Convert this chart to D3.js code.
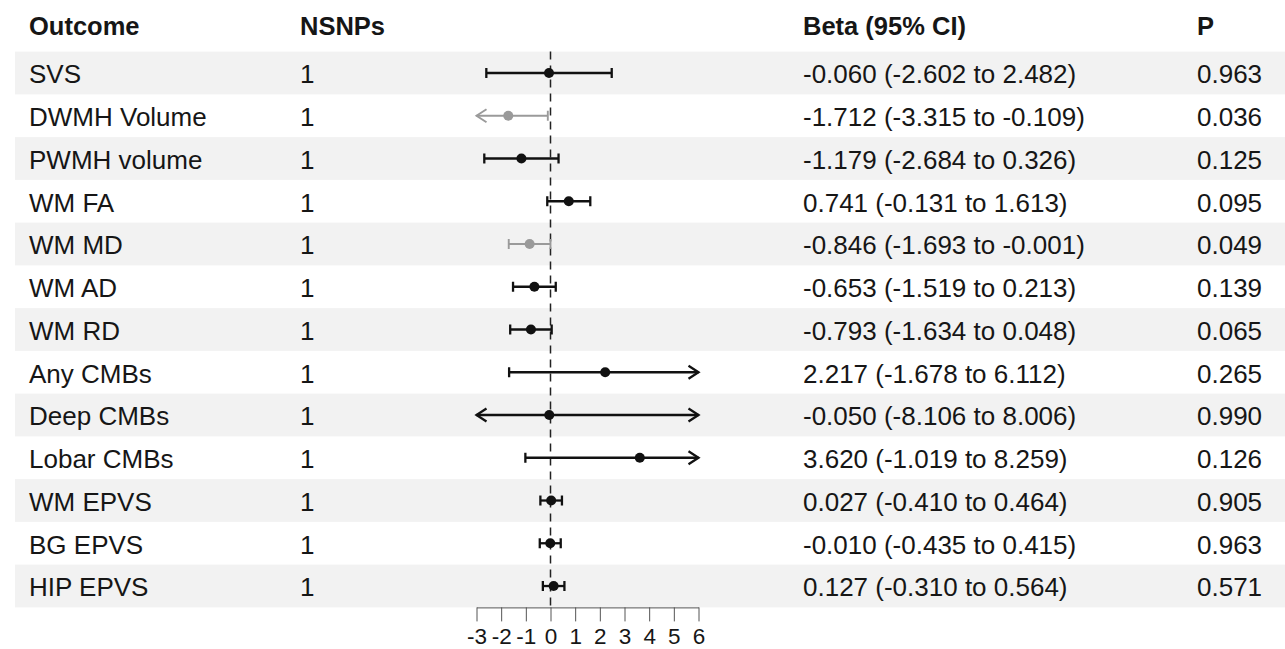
<!DOCTYPE html>
<html>
<head>
<meta charset="utf-8">
<script src="https://cdn.jsdelivr.net/npm/d3@7"></script>
<style>
  html, body { margin: 0; padding: 0; background: #fff; }
  svg { display: block; }
  text { font-family: "Liberation Sans", Arial, Helvetica, sans-serif; fill: #161616; }
</style>
</head>
<body>
<svg id="chart" width="1285" height="649"></svg>
<script>
// ---- data ----
const outcomes = ["SVS", "DWMH Volume", "PWMH volume", "WM FA", "WM MD", "WM AD", "WM RD",
                  "Any CMBs", "Deep CMBs", "Lobar CMBs", "WM EPVS", "BG EPVS", "HIP EPVS"];
const nsnps   = [1, 1, 1, 1, 1, 1, 1, 1, 1, 1, 1, 1, 1];
const beta    = [-0.060, -1.712, -1.179, 0.741, -0.846, -0.653, -0.793, 2.217, -0.050, 3.620, 0.027, -0.010, 0.127];
const lower   = [-2.602, -3.315, -2.684, -0.131, -1.693, -1.519, -1.634, -1.678, -8.106, -1.019, -0.410, -0.435, -0.310];
const upper   = [2.482, -0.109, 0.326, 1.613, -0.001, 0.213, 0.048, 6.112, 8.006, 8.259, 0.464, 0.415, 0.564];
const pvals   = [0.963, 0.036, 0.125, 0.095, 0.049, 0.139, 0.065, 0.265, 0.990, 0.126, 0.905, 0.963, 0.571];
const xTicks  = [-3, -2, -1, 0, 1, 2, 3, 4, 5, 6];
const headers = ["Outcome", "NSNPs", "Beta (95% CI)", "P"];

const rows = outcomes.map((o, i) => ({
  outcome: o, n: nsnps[i], beta: beta[i], lo: lower[i], hi: upper[i], p: pvals[i], i
}));

// ---- layout ----
const svg = d3.select("#chart");
const W = 1285;
const fontSize = 26;
const headSize = 25.5;
const colX = { outcome: 29, n: 300, ci: 803, p: 1197 };
const headerY = 26;

const y = d3.scaleBand().domain(outcomes).range([51.6, 607.4]).padding(0);
const x = d3.scaleLinear().domain([xTicks[0], xTicks[xTicks.length - 1]]).range([476.5, 698.5]);
const [xmin, xmax] = x.domain();

const f3 = d3.format(".3f");
const fmt = v => f3(v).replace("−", "-");

// row bands
svg.append("g").selectAll("rect")
  .data(rows.filter(d => d.i % 2 === 0))
  .join("rect")
  .attr("x", 15).attr("width", W - 15)
  .attr("y", d => y(d.outcome)).attr("height", y.bandwidth())
  .attr("fill", "#f2f2f2");

// headers
svg.append("g").selectAll("text")
  .data(headers)
  .join("text")
  .attr("x", (d, i) => [colX.outcome, colX.n, colX.ci, colX.p][i])
  .attr("y", headerY)
  .attr("dy", "0.36em")
  .attr("font-size", headSize)
  .attr("font-weight", "bold")
  .text(d => d);

// table text
const cy = d => y(d.outcome) + y.bandwidth() / 2 + 1;
const tg = svg.append("g");
const cols = [
  { x: colX.outcome, t: d => d.outcome },
  { x: colX.n, t: d => String(d.n) },
  { x: colX.ci, t: d => `${fmt(d.beta)} (${fmt(d.lo)} to ${fmt(d.hi)})` },
  { x: colX.p, t: d => fmt(d.p) }
];
cols.forEach(c => {
  tg.append("g").selectAll("text")
    .data(rows)
    .join("text")
    .attr("x", c.x)
    .attr("y", cy)
    .attr("dy", "0.36em")
    .attr("font-size", fontSize)
    .text(c.t);
});

// reference line at 0
svg.append("line")
  .attr("x1", x(0)).attr("x2", x(0))
  .attr("y1", y.range()[0]).attr("y2", y.range()[1])
  .attr("stroke", "#222")
  .attr("stroke-width", 1.5)
  .attr("stroke-dasharray", "8,6");

// CIs
const colorOf = d => d.p < 0.05 ? "#9a9a9a" : "#111";
const widthOf = d => d.p < 0.05 ? 1.9 : 2.3;
const capH = 5, arrL = 10, arrH = 6.5;
const cig = svg.append("g");
rows.forEach(d => {
  const yc = cy(d) - 1;
  const col = colorOf(d), sw = widthOf(d);
  const lo = Math.max(d.lo, xmin), hi = Math.min(d.hi, xmax);
  const g = cig.append("g").attr("stroke", col).attr("stroke-width", sw).attr("fill", "none");
  g.append("line").attr("x1", x(lo)).attr("x2", x(hi)).attr("y1", yc).attr("y2", yc);
  if (d.lo < xmin) {
    g.append("path").attr("d", `M${x(lo) + arrL},${yc - arrH}L${x(lo)},${yc}L${x(lo) + arrL},${yc + arrH}`);
  } else {
    g.append("line").attr("x1", x(lo)).attr("x2", x(lo)).attr("y1", yc - capH).attr("y2", yc + capH);
  }
  if (d.hi > xmax) {
    g.append("path").attr("d", `M${x(hi) - arrL},${yc - arrH}L${x(hi)},${yc}L${x(hi) - arrL},${yc + arrH}`);
  } else {
    g.append("line").attr("x1", x(hi)).attr("x2", x(hi)).attr("y1", yc - capH).attr("y2", yc + capH);
  }
  cig.append("circle").attr("cx", x(d.beta)).attr("cy", yc).attr("r", 5).attr("fill", col);
});

// axis
const axis = d3.axisBottom(x).tickValues(xTicks).tickSize(14).tickSizeOuter(0).tickPadding(7)
  .tickFormat(d => String(d));
const ag = svg.append("g").attr("transform", `translate(0,${y.range()[1]})`).call(axis);
ag.select(".domain").attr("stroke", "#555").attr("stroke-width", 1);
ag.selectAll(".tick line").attr("stroke", "#555").attr("stroke-width", 1);
ag.selectAll(".tick text")
  .attr("font-size", 22.5)
  .attr("font-family", '"Liberation Sans", Arial, sans-serif')
  .attr("fill", "#161616");
</script>
</body>
</html>
